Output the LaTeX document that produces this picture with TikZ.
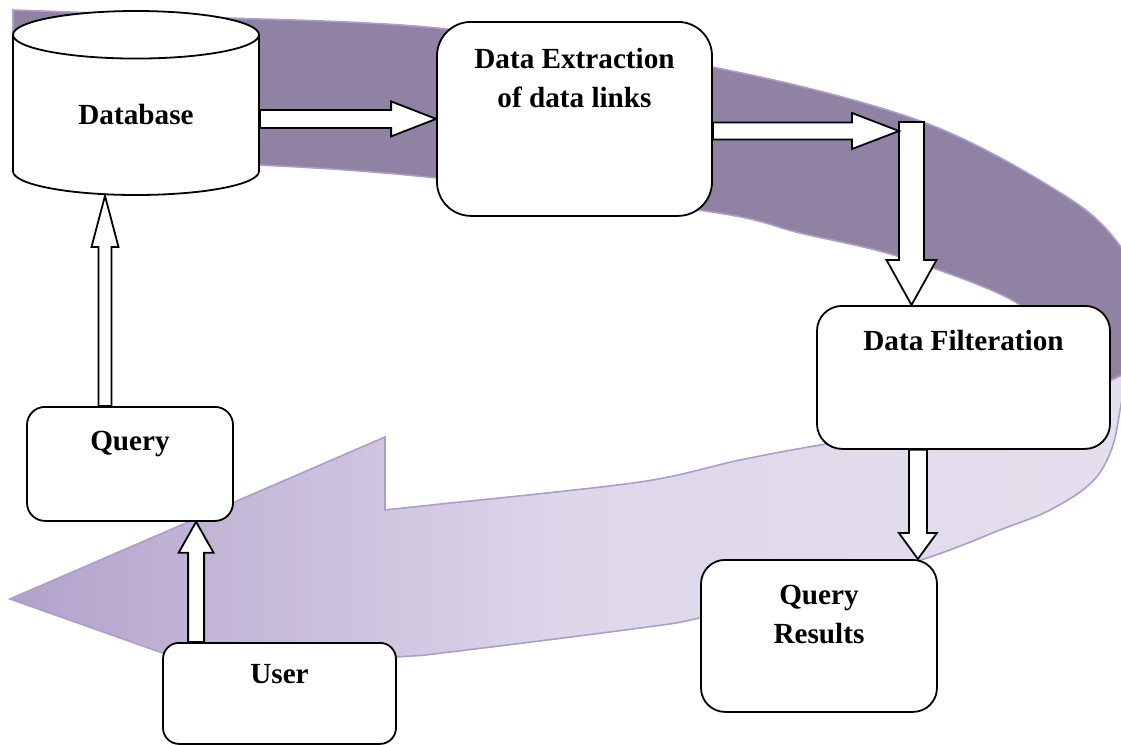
\documentclass[tikz,border=0pt]{standalone}
\usepackage{fontspec}
\setmainfont{Liberation Serif}
\usetikzlibrary{shapes.geometric,calc}

\definecolor{ringback}{RGB}{143,130,162}
\definecolor{ringedge}{RGB}{172,157,206}
\definecolor{ringdark}{RGB}{178,162,203}
\definecolor{ringmid}{RGB}{222,215,234}
\definecolor{ringlight}{RGB}{228,222,237}

% hollow block arrow: tail, tip, half shaft width, half head width, head length
\newcommand{\blockarrow}[5]{%
  \path (#1) coordinate (ba-tail);
  \path (#2) coordinate (ba-tip);
  \path ($(ba-tip)!#5!(ba-tail)$) coordinate (ba-neck);
  \draw[arrowbody] ($(ba-tail)!#3!90:(ba-tip)$) -- ($(ba-neck)!#3!90:(ba-tip)$)
    -- ($(ba-neck)!#4!90:(ba-tip)$) -- (ba-tip) -- ($(ba-neck)!#4!-90:(ba-tip)$)
    -- ($(ba-neck)!#3!-90:(ba-tip)$) -- ($(ba-tail)!#3!-90:(ba-tip)$) -- cycle;}

\begin{document}
\begin{tikzpicture}[x=0.5pt,y=-0.5pt,
  label font/.style={font=\bfseries\fontsize{14.6}{19.5}\selectfont},
  box/.style={draw,fill=white,line width=0.9pt,inner sep=0pt,align=center,anchor=north,label font},
  arrowbody/.style={draw,fill=white,line width=0.9pt,line join=miter}]
 \useasboundingbox (0,0) rectangle (1121,745);

 \begin{scope}
  \clip (0,0) rectangle (1121,745);
  \filldraw[fill=ringback,draw=ringedge,line width=0.8pt]
   plot[smooth,tension=0.55] coordinates {(13,10) (200,17) (437,28) (712,67) (923,122) (1067,197) (1121,247) (1145,300) (1150,345) (1138,372)}
   -- (1060,395)
   -- plot[smooth,tension=0.55] coordinates {(1045,350) (1017,303) (900,257) (800,233) (712,212) (437,178) (259,165) (13,157)}
   -- cycle;
  \shadedraw[left color=ringdark,right color=ringlight,middle color=ringmid,draw=ringedge,line width=0.8pt]
   (1060,405)
   -- plot[smooth,tension=0.6] coordinates {(1128,372) (1121,405) (1112,448) (1092,482) (1050,510) (1000,530) (930,557) (820,590) (700,618) (640,628) (450,652) (396,657) (205,668)}
   -- (10,599) -- (385,437) -- (385,510)
   -- plot[smooth,tension=0.55] coordinates {(450,503) (640,482) (740,460) (820,445) (950,424) (1060,405)}
   -- cycle;
 \end{scope}

 \node[cylinder,shape border rotate=90,aspect=0.37,draw,fill=white,line width=0.9pt,
  minimum width=123pt,minimum height=92pt,anchor=shape center,text depth=5pt,label font] (db) at (136,103) {Database};
 \node[box,rounded corners=17pt,minimum width=137.5pt,text height=43pt,text depth=54pt] (ext) at (574.5,21) {Data Extraction\\of data links};
 \node[box,rounded corners=12.5pt,minimum width=146.5pt,text height=22.5pt,text depth=49pt] (filt) at (963.5,305) {Data Filteration};
 \node[box,rounded corners=12pt,minimum width=118pt,text height=42pt,text depth=34pt] (res) at (819,559) {Query\\Results};
 \node[box,rounded corners=9pt,minimum width=103pt,text height=22pt,text depth=35pt] (query) at (130,406) {Query};
 \node[box,rounded corners=8pt,minimum width=116.5pt,text height=20.5pt,text depth=30pt] (user) at (279.5,642) {User};

 \coordinate (drop) at (911.5,122);
 \coordinate (hop) at (899,131);
 \coordinate (rtop) at ([xshift=-10pt]res.north east);
 \coordinate (uq) at ([xshift=17pt]user.north west);
 \coordinate (qd) at ([xshift=-12.5pt]query.north);

 \blockarrow{db.east |- ext.west}{ext.west}{4.5pt}{8.75pt}{22.5pt}
 \blockarrow{drop}{filt.north -| drop}{6.25pt}{12.5pt}{22.5pt}
 \blockarrow{ext.east |- hop}{hop}{4.25pt}{9pt}{23.5pt}
 \blockarrow{filt.south -| rtop}{rtop}{4.5pt}{9.5pt}{13pt}
 \blockarrow{uq}{query.south -| uq}{4pt}{8.75pt}{15.5pt}
 \blockarrow{qd}{db.south -| qd}{3.25pt}{6.75pt}{25.5pt}
\end{tikzpicture}
\end{document}
